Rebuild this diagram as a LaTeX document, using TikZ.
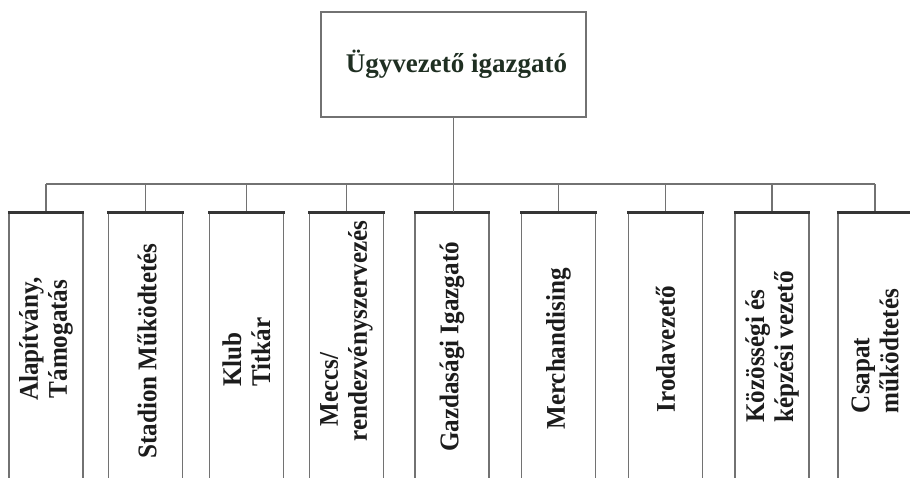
\documentclass[tikz,border=0pt]{standalone}
\usepackage{fontspec}
\setmainfont{Liberation Serif}
\newfontfamily\condserif[FakeStretch=0.93]{Liberation Serif}
\definecolor{linegray}{HTML}{727272}
\definecolor{edgedark}{HTML}{353535}
\definecolor{txt}{HTML}{1C1C1C}
\definecolor{toptxt}{HTML}{1F2F22}
\begin{document}
\begin{tikzpicture}[x=1pt,y=-1pt,
  line/.style={draw=linegray,line width=1.1pt},
  childbox/.style={draw=linegray,line width=1.1pt,minimum width=74pt,minimum height=270pt,anchor=north,inner sep=0pt},
  topedge/.style={draw=edgedark,line width=3pt},
  lbl/.style={rotate=90,font=\condserif\bfseries\fontsize{27}{29}\selectfont,text=txt,inner sep=0pt,align=center},
  lbll/.style={lbl,align=left}]
\useasboundingbox (0,0) rectangle (910,477);
\fill[white] (0,0) rectangle (910,477);
\clip (0,0) rectangle (910,477);
% top box
\node[draw=linegray,line width=1.1pt,minimum width=265pt,minimum height=105pt,inner sep=0pt,
      font=\bfseries\fontsize{27}{30}\selectfont,text=toptxt] (ceo) at (453.5,64.5) {\hspace*{6pt}Ügyvezető igazgató};
% children boxes
\node[childbox] (b1) at (46,212) {};
\node[childbox] (b2) at (145.5,212) {};
\node[childbox] (b3) at (246.5,212) {};
\node[childbox] (b4) at (346.5,212) {};
\node[childbox] (b5) at (452,212) {};
\node[childbox] (b6) at (558.5,212) {};
\node[childbox] (b7) at (665.5,212) {};
\node[childbox] (b8) at (772,212) {};
\node[childbox] (b9) at (875,212) {};
\foreach \i in {1,...,9}{
  \draw[topedge] ([xshift=-0.5pt]b\i.north west) -- ([xshift=0.5pt]b\i.north east);
}
% bus
\coordinate (bus) at (0,184);
\draw[line] (b1.north |- bus) -- (b9.north |- bus);
\draw[line] (ceo.south) -- (ceo.south |- b5.north);
\foreach \i in {1,2,3,4,6,7,8,9}{
  \draw[line] (b\i.north |- bus) -- ([yshift=1.5pt]b\i.north);
}
% labels
\node[lbl]  (t1) at (46,339)    {Alapítvány,\\Támogatás};
\node[lbl]  (t2) at (147,351)   {Stadion Működtetés};
\node[lbll] (t3) at (246.5,352) {Klub\\Titkár};
\node[lbll] (t4) at (346.5,331) {\hspace*{15pt}Meccs/\\rendezvényszervezés};
\node[lbl]  (t5) at (452,347)   {Gazdasági Igazgató};
\node[lbl]  (t6) at (558.5,349) {Merchandising};
\node[lbl]  (t7) at (665.5,349) {Irodavezető};
\node[lbll] (t8) at (772,347)   {Közösségi és\\képzési vezető};
\node[lbll] (t9) at (875,351)   {Csapat\\működtetés};
\end{tikzpicture}
\end{document}
